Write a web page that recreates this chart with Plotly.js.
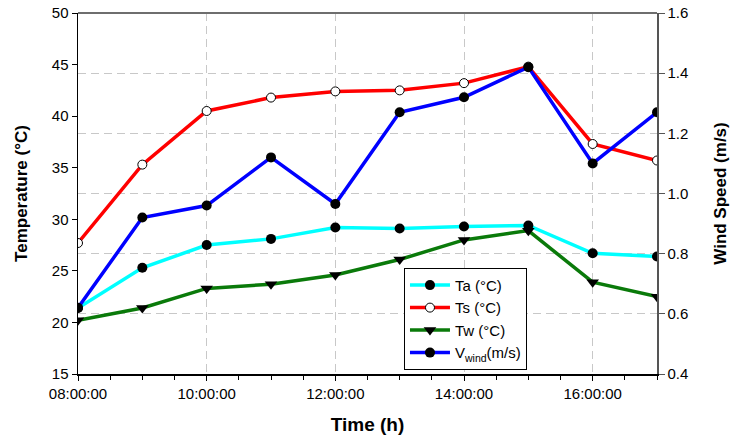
<!DOCTYPE html>
<html>
<head>
<meta charset="utf-8">
<script src="https://cdn.plot.ly/plotly-3.0.1.min.js"></script>
<style>
html,body{margin:0;padding:0;background:#fff;}
#chart{width:732px;height:437px;}
</style>
</head>
<body>
<div id="chart"></div>
<script>
var times = ["08:00:00","09:00:00","10:00:00","11:00:00","12:00:00","13:00:00","14:00:00","15:00:00","16:00:00","17:00:00"];
var Ta = [21.4, 25.3, 27.5, 28.1, 29.2, 29.1, 29.3, 29.4, 26.7, 26.4];
var Ts = [27.7, 35.3, 40.5, 41.8, 42.4, 42.5, 43.2, 44.8, 37.3, 35.7];
var Tw = [20.2, 21.4, 23.3, 23.7, 24.6, 26.1, 28.0, 28.9, 23.9, 22.5];
var Vwind = [0.62, 0.92, 0.96, 1.12, 0.965, 1.27, 1.32, 1.42, 1.10, 1.27];
var seriesNames = ["Ta (°C)", "Ts (°C)", "Tw (°C)", "V<sub>wind</sub>(m/s)"];
var xLabel = "Time (h)";
var yLabel = "Temperature (°C)";
var y2Label = "Wind Speed (m/s)";

var day = "2000-01-01 ";
var x = times.map(function(t){ return day + t; });
var FONT = "Liberation Sans, Arial, sans-serif";

var traces = [
  {x:x, y:Ta, name:seriesNames[0], type:'scatter', mode:'lines+markers',
   line:{color:'#00FFFF', width:3.5}, marker:{symbol:'circle', size:10, color:'#000'}},
  {x:x, y:Ts, name:seriesNames[1], type:'scatter', mode:'lines+markers',
   line:{color:'#FF0000', width:3.5}, marker:{symbol:'circle', size:9, color:'#fff', line:{color:'#000', width:1}}},
  {x:x, y:Tw, name:seriesNames[2], type:'scatter', mode:'lines+markers',
   line:{color:'#0A7A0A', width:3.5}, marker:{symbol:'triangle-down', size:11, color:'#000'}},
  {x:x, y:Vwind, name:seriesNames[3], type:'scatter', mode:'lines+markers', yaxis:'y2',
   line:{color:'#0000FF', width:3.5}, marker:{symbol:'circle', size:10, color:'#000'}}
];

var grid = '#c8c8c8';
var layout = {
  width:732, height:437,
  margin:{l:78, r:75, t:13, b:63, pad:0},
  paper_bgcolor:'#fff', plot_bgcolor:'#fff',
  font:{family:FONT, size:15, color:'#000'},
  showlegend:true,
  legend:{x:0.563, y:0.294, xanchor:'left', yanchor:'top', bgcolor:'#fff',
          bordercolor:'#000', borderwidth:1, font:{family:FONT, size:15, color:'#000'},
          itemwidth:40, tracegroupgap:0},
  xaxis:{type:'date', range:[day+"08:00:00", day+"17:00:00"],
         tickformat:'%H:%M:%S', tick0:day+"08:00:00", dtick:7200000,
         ticks:'outside', ticklen:5, tickcolor:'#000',
         showgrid:true, gridcolor:grid, griddash:'8px,5px', gridwidth:1,
         showline:true, linecolor:'#000', linewidth:1.5, zeroline:false,
         minor:{dtick:1800000, tick0:day+"08:00:00", ticks:'outside', ticklen:4, tickcolor:'#000', showgrid:false},
         tickfont:{family:FONT, size:15},
         title:{text:'<b>'+xLabel+'</b>', font:{family:FONT, size:19}, standoff:17}},
  yaxis:{range:[15,50], dtick:5, tick0:15, ticks:'outside', ticklen:5, tickcolor:'#000',
         showgrid:false, showline:true, linecolor:'#000', linewidth:1.5, zeroline:false,
         tickfont:{family:FONT, size:15},
         title:{text:'<b>'+yLabel+'</b>', font:{family:FONT, size:17}, standoff:20}},
  yaxis2:{overlaying:'y', side:'right', range:[0.4,1.6], dtick:0.2, tick0:0.4, tickformat:'.1f',
          ticks:'outside', ticklen:6, tickcolor:'#555',
          showgrid:true, gridcolor:grid, griddash:'8px,5px', gridwidth:1,
          showline:true, linecolor:'#555', linewidth:1.5, zeroline:false,
          tickfont:{family:FONT, size:15},
          title:{text:'<b>'+y2Label+'</b>', font:{family:FONT, size:17}, standoff:26}},
  shapes:[{type:'line', xref:'paper', yref:'paper', x0:0, x1:1, y0:1, y1:1,
           line:{color:'#6e6e6e', width:2}}]
};

Plotly.newPlot('chart', traces, layout, {displayModeBar:false, staticPlot:true});
</script>
</body>
</html>
